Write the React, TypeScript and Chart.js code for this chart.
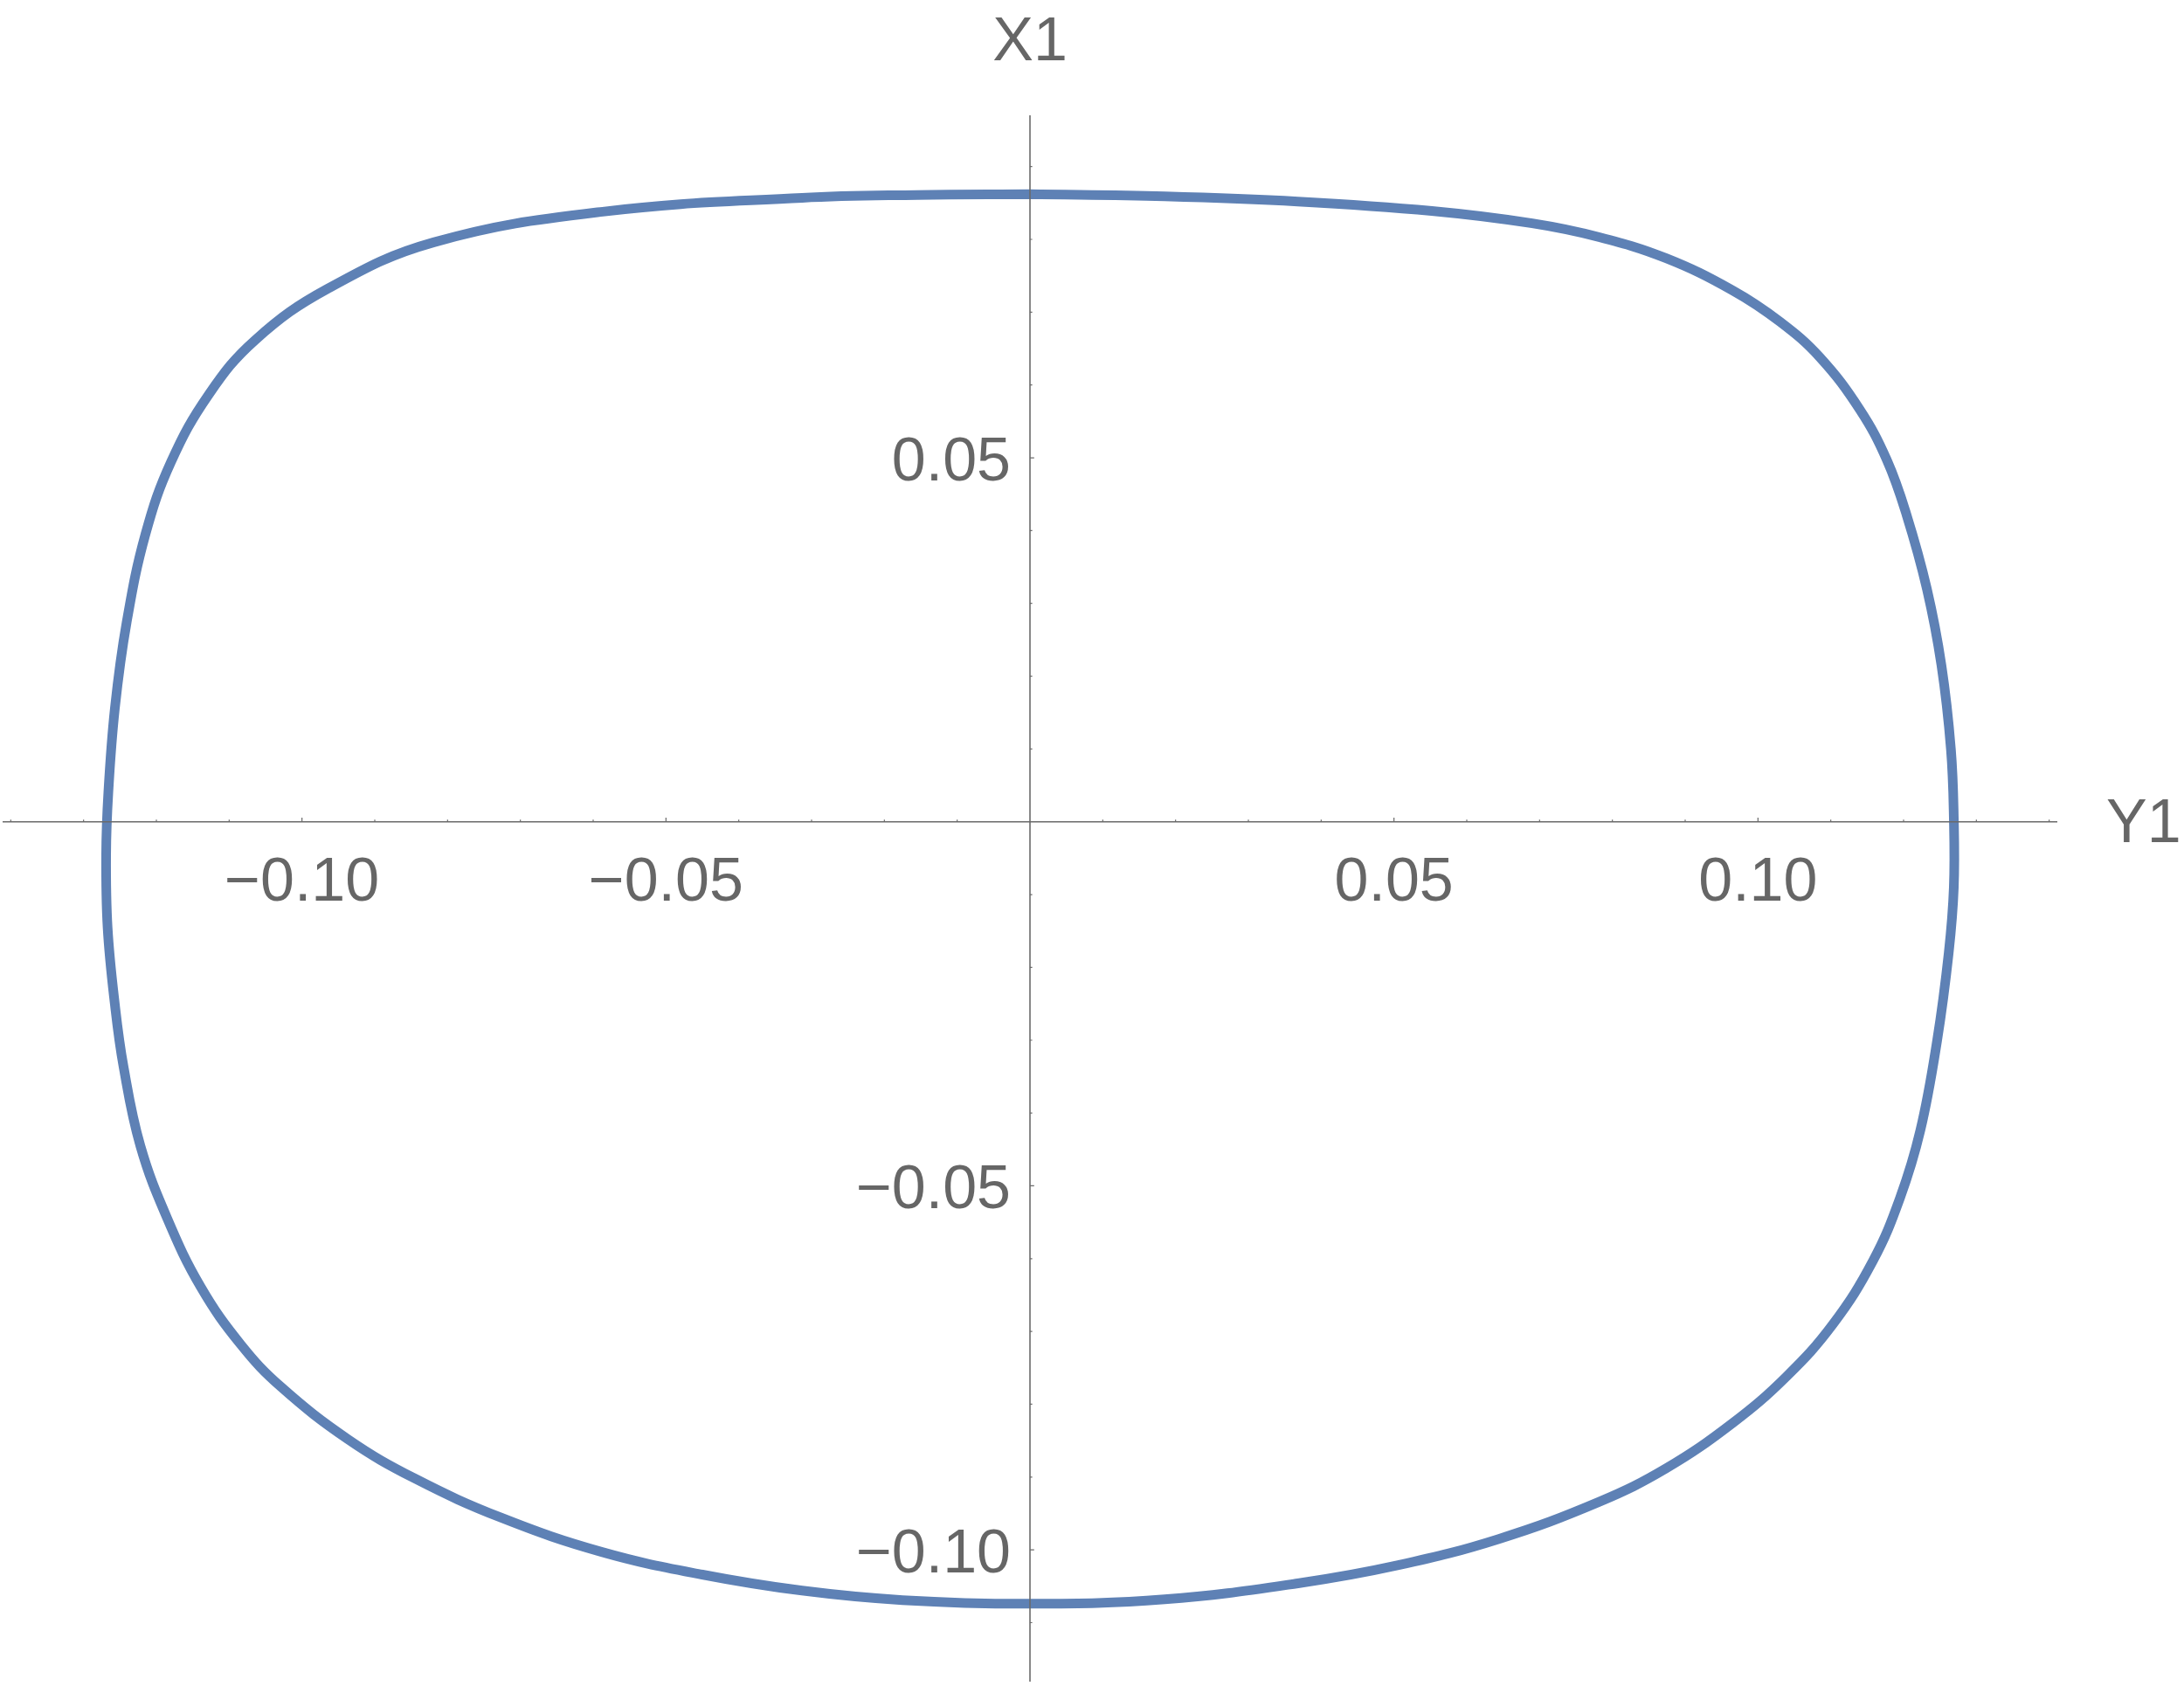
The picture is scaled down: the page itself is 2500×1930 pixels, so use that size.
import React, { useEffect, useRef } from "react";
import { Chart, registerables } from "chart.js";

Chart.register(...registerables);

// Curve samples (horizontal = Y1, vertical = X1), traced clockwise from the top
const Y1_VALUES = [
  0.0, 0.0185, 0.0368, 0.0552, 0.069, 0.0782, 0.0874, 0.0965, 0.103, 0.1085, 0.114, 0.1177, 0.1204, 0.1232, 0.1252, 0.1265, 0.1269,
  0.1269, 0.1262, 0.1246, 0.1223, 0.1195, 0.1158, 0.1103, 0.1039, 0.0965, 0.0874, 0.0782, 0.0644, 0.0506, 0.0368, 0.0185, 0.0,
  -0.0175, -0.0313, -0.045, -0.0588, -0.0726, -0.0845, -0.0937, -0.1029, -0.1084, -0.1139, -0.1185, -0.1222, -0.1245, -0.1257, -0.1267, -0.1269,
  -0.1266, -0.1257, -0.1241, -0.1215, -0.118, -0.1128, -0.1064, -0.0965, -0.0819, -0.0587, -0.0313, -0.0155, 0.0,
];
const X1_VALUES = [
  0.0862, 0.0859, 0.0852, 0.0839, 0.0822, 0.0803, 0.0774, 0.073, 0.0687, 0.0638, 0.0566, 0.0497, 0.0422, 0.032, 0.0215, 0.01, 0.0005,
  -0.009, -0.018, -0.0301, -0.0424, -0.0517, -0.0603, -0.069, -0.0762, -0.0826, -0.0888, -0.0934, -0.0985, -0.1021, -0.1046, -0.1068, -0.1074,
  -0.1069, -0.1056, -0.1034, -0.1003, -0.0956, -0.0902, -0.0848, -0.0776, -0.0718, -0.0639, -0.0545, -0.0445, -0.0337, -0.0251, -0.0145, -0.0045,
  0.004, 0.0156, 0.0273, 0.0395, 0.0494, 0.0587, 0.0662, 0.0732, 0.0796, 0.0838, 0.0857, 0.0861, 0.0862,
];

const X_AXIS_TITLE = "Y1";
const Y_AXIS_TITLE = "X1";

const X_MAJOR_TICKS = [-0.1, -0.05, 0.05, 0.1];
const X_TICK_LABELS = ["\u22120.10", "\u22120.05", "0.05", "0.10"];
const Y_MAJOR_TICKS = [0.05, -0.05, -0.1];
const Y_TICK_LABELS = ["0.05", "\u22120.05", "\u22120.10"];
const X_MINOR_TICKS = [
  -0.14, -0.13, -0.12, -0.11, -0.09, -0.08, -0.07, -0.06, -0.04, -0.03, -0.02, -0.01,
  0.01, 0.02, 0.03, 0.04, 0.06, 0.07, 0.08, 0.09, 0.11, 0.12, 0.13, 0.14,
];
const Y_MINOR_TICKS = [
  0.09, 0.08, 0.07, 0.06, 0.04, 0.03, 0.02, 0.01,
  -0.01, -0.02, -0.03, -0.04, -0.06, -0.07, -0.08, -0.09, -0.11,
];

const X_MIN = -0.14112;
const X_MAX = 0.14112;
const Y_MIN = -0.1181;
const Y_MAX = 0.09704;

const CURVE_COLOR = "#5E81B5";
const AXIS_COLOR = "#6a6a6a";
const TEXT_COLOR = "#666666";
const FONT = '70px "Liberation Sans", Arial, Helvetica, sans-serif';

const axesPlugin = {
  id: "mmaAxes",
  afterDatasetsDraw(chart: any) {
    const ctx = chart.ctx as CanvasRenderingContext2D;
    const xs = chart.scales.x;
    const ys = chart.scales.y;
    const { left, right, top, bottom } = chart.chartArea;
    const x0 = xs.getPixelForValue(0);
    const y0 = ys.getPixelForValue(0);
    ctx.save();
    ctx.strokeStyle = AXIS_COLOR;
    ctx.lineWidth = 1.6;
    ctx.beginPath();
    ctx.moveTo(left, y0);
    ctx.lineTo(right, y0);
    ctx.stroke();
    ctx.beginPath();
    ctx.moveTo(x0, top);
    ctx.lineTo(x0, bottom);
    ctx.stroke();

    ctx.lineWidth = 1.2;
    ctx.beginPath();
    for (const v of X_MINOR_TICKS) {
      const px = xs.getPixelForValue(v);
      ctx.moveTo(px, y0);
      ctx.lineTo(px, y0 - 2.6);
    }
    for (const v of X_MAJOR_TICKS) {
      const px = xs.getPixelForValue(v);
      ctx.moveTo(px, y0);
      ctx.lineTo(px, y0 - 4.8);
    }
    for (const v of Y_MINOR_TICKS) {
      const py = ys.getPixelForValue(v);
      ctx.moveTo(x0, py);
      ctx.lineTo(x0 + 2.6, py);
    }
    for (const v of Y_MAJOR_TICKS) {
      const py = ys.getPixelForValue(v);
      ctx.moveTo(x0, py);
      ctx.lineTo(x0 + 4.8, py);
    }
    ctx.stroke();

    ctx.fillStyle = TEXT_COLOR;
    ctx.font = FONT;
    ctx.textBaseline = "alphabetic";
    ctx.textAlign = "center";
    X_MAJOR_TICKS.forEach((v, i) => {
      ctx.fillText(X_TICK_LABELS[i], xs.getPixelForValue(v), y0 + 90.5);
    });
    ctx.textAlign = "right";
    Y_MAJOR_TICKS.forEach((v, i) => {
      ctx.fillText(Y_TICK_LABELS[i], x0 - 22, ys.getPixelForValue(v) + 25.5);
    });
    ctx.textAlign = "center";
    ctx.fillText(Y_AXIS_TITLE, x0, top - 63);
    ctx.textAlign = "left";
    ctx.fillText(X_AXIS_TITLE, right + 56, y0 + 23.5);
    ctx.restore();
  },
};

export default function App() {
  const canvasRef = useRef<HTMLCanvasElement | null>(null);

  useEffect(() => {
    const canvas = canvasRef.current;
    if (!canvas) return;
    let alive = true;
    const points = Y1_VALUES.map((x, i) => ({ x, y: X1_VALUES[i] }));
    const chart = new Chart(canvas, {
      type: "line",
      data: {
        datasets: [
          {
            data: points,
            borderColor: CURVE_COLOR,
            backgroundColor: CURVE_COLOR,
            borderWidth: 11,
            pointRadius: 0,
            pointHoverRadius: 0,
            tension: 0.4,
            fill: false,
          } as any,
        ],
      },
      options: {
        responsive: false,
        animation: false,
        devicePixelRatio: 1,
        layout: { padding: { left: 3, right: 145, top: 132, bottom: 5 } },
        plugins: {
          legend: { display: false },
          tooltip: { enabled: false },
          title: { display: false },
        },
        events: [],
        scales: {
          x: { type: "linear", min: X_MIN, max: X_MAX, display: false },
          y: { type: "linear", min: Y_MIN, max: Y_MAX, display: false },
        },
      },
      plugins: [axesPlugin],
    });
    const fonts: any = (document as any).fonts;
    if (fonts && fonts.load) {
      fonts
        .load(FONT, "0.1\u2212XY")
        .then(() => {
          if (alive) chart.draw();
        })
        .catch(() => {});
    }
    return () => {
      alive = false;
      chart.destroy();
    };
  }, []);

  return (
    <div style={{ position: "absolute", left: 0, top: 0, width: 2500, height: 1930, background: "#ffffff" }}>
      <canvas ref={canvasRef} width={2500} height={1930} style={{ display: "block" }} />
    </div>
  );
}
